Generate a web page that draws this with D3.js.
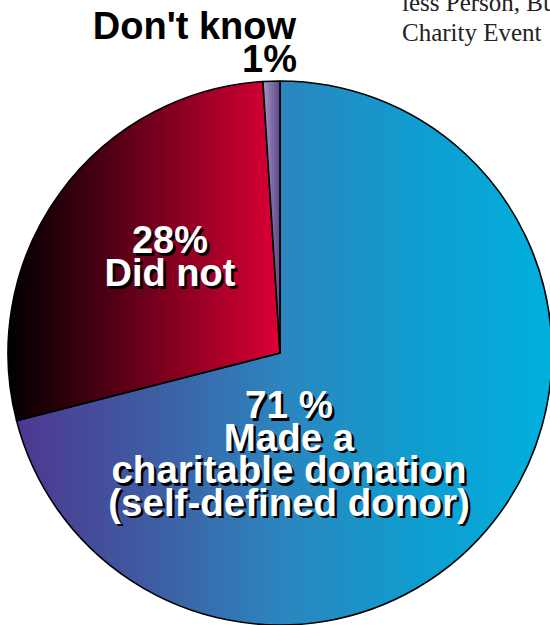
<!DOCTYPE html>
<html>
<head>
<meta charset="utf-8">
<script src="https://cdn.jsdelivr.net/npm/d3@7"></script>
<style>
  html, body { margin: 0; padding: 0; background: #fff; }
  svg { display: block; }
</style>
</head>
<body>
<svg id="chart" width="550" height="625"></svg>
<script>
// Survey shares: who made a charitable donation
const categories = ["Made a charitable donation (self-defined donor)", "Did not", "Don't know"];
const values = [71, 28, 1];
const percentLabels = ["71 %", "28%", "1%"];
const labelLines = [["Made a", "charitable donation", "(self-defined donor)"], ["Did not"], ["Don't know"]];
const noteLines = ["less Person, Bu", "Charity Event"];

// Horizontal gradient stops per slice (left to right)
const gradientStops = [
  [["0%", "#4e3790"], ["25%", "#3f5ca2"], ["50%", "#2b86bf"], ["75%", "#0f9dcf"], ["100%", "#00b0dd"]],
  [["0%", "#000000"], ["30%", "#400010"], ["65%", "#8e0022"], ["100%", "#dc0035"]],
  [["0%", "#a796c6"], ["100%", "#5a4888"]]
];

const svg = d3.select("#chart");
const cx = 280, cy = 353, r = 272;

const defs = svg.append("defs");
gradientStops.forEach((stops, i) => {
  const g = defs.append("linearGradient")
    .attr("id", "grad" + i)
    .attr("x1", 0).attr("y1", 0).attr("x2", 1).attr("y2", 0);
  stops.forEach(([o, c]) => g.append("stop").attr("offset", o).attr("stop-color", c));
});

const pie = d3.pie().sort(null).value(d => d)(values);
const arc = d3.arc().innerRadius(0).outerRadius(r);

const g = svg.append("g").attr("transform", `translate(${cx},${cy})`);
g.selectAll("path.slice")
  .data(pie)
  .join("path")
  .attr("class", "slice")
  .attr("d", arc)
  .attr("fill", (d, i) => `url(#grad${i})`)
  .attr("stroke", "#000")
  .attr("stroke-width", 1.6)
  .attr("stroke-linejoin", "round");

// Labels with a drop shadow inside the slices
function shadowText(parent, x, y, lines, size, lh) {
  const grp = parent.append("g")
    .attr("font-family", "'Liberation Sans', Arial, sans-serif")
    .attr("font-weight", "bold")
    .attr("font-size", size)
    .attr("text-anchor", "middle");
  [["#000", 2.5], ["#fff", 0]].forEach(([fill, off]) => {
    lines.forEach((t, k) => {
      grp.append("text")
        .attr("x", x + off)
        .attr("y", y + k * lh + off)
        .attr("fill", fill)
        .text(t);
    });
  });
}

shadowText(svg, 289, 418, [percentLabels[0], ...labelLines[0]], 38.5, 32.5);
shadowText(svg, 170, 253, [percentLabels[1], ...labelLines[1]], 38, 33);

// Small slice label sits above the pie
const outer = svg.append("g")
  .attr("font-family", "'Liberation Sans', Arial, sans-serif")
  .attr("font-weight", "bold")
  .attr("font-size", 38)
  .attr("text-anchor", "end")
  .attr("fill", "#000");
outer.append("text").attr("x", 296).attr("y", 39).text(labelLines[2][0]);
outer.append("text").attr("x", 297).attr("y", 72).text(percentLabels[2]);

// Surrounding document text
const note = svg.append("g")
  .attr("font-family", "'Liberation Serif', 'Times New Roman', serif")
  .attr("font-size", 25)
  .attr("fill", "#222");
noteLines.forEach((t, k) => {
  note.append("text").attr("x", 402).attr("y", 11 + k * 30).text(t);
});
</script>
</body>
</html>
